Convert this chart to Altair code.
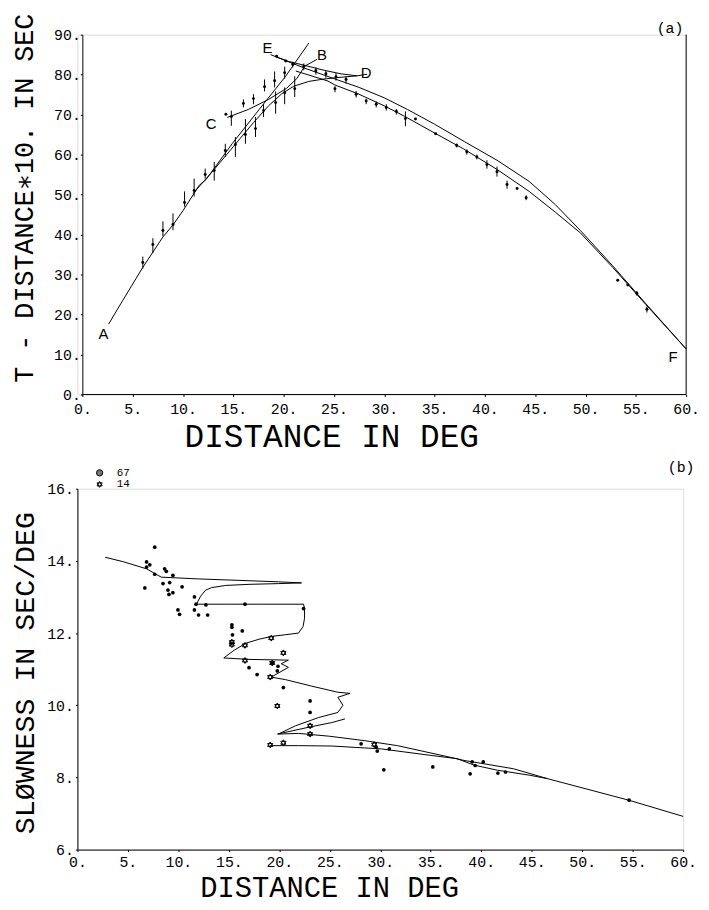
import altair as alt
import pandas as pd

# ---------------- Panel (a): reduced travel time branches ----------------
ab1_x = [2.6, 4.0, 6.0, 8.0, 9.0, 10.0, 11.6, 12.3, 14.9, 18.2, 20.2, 22.5]
ab1_y = [17.6, 23.5, 31.8, 39.4, 42.4, 46.0, 52.3, 53.8, 62.8, 73.3, 79.6, 87.9]

ab2_x = [11.0, 13.0, 15.0, 17.0, 18.5, 19.8, 21.0, 22.5, 24.0, 25.5, 27.3, 28.3]
ab2_y = [50.3, 56.0, 62.0, 68.0, 72.2, 75.2, 77.1, 78.3, 78.9, 79.3, 79.7, 80.1]

cb_x = [14.4, 16.5, 18.5, 20.3, 21.3, 22.1]
cb_y = [69.3, 71.3, 73.8, 76.6, 79.0, 82.1]

de_x = [19.3, 20.5, 22.1, 24.0, 25.7, 27.3]
de_y = [84.4, 83.3, 82.3, 81.1, 80.2, 79.7]

ef1_x = [18.7, 20.5, 22.1, 24.0, 25.0, 27.5, 30.0, 32.3, 35.0, 38.0, 41.2, 44.4, 47.0, 49.5, 52.7, 56.0, 60.0]
ef1_y = [85.0, 83.2, 81.6, 79.9, 79.0, 76.8, 74.2, 71.3, 67.6, 63.2, 58.6, 53.3, 47.5, 41.0, 32.2, 22.7, 11.4]

ef2_x = [21.2, 22.5, 24.4, 25.1, 27.4, 30.0, 32.0, 35.0, 37.9, 41.2, 44.4, 47.0, 49.5, 52.7, 56.0, 60.0]
ef2_y = [80.9, 79.9, 78.4, 77.4, 75.2, 72.2, 69.6, 65.4, 61.4, 56.3, 50.8, 45.6, 40.4, 31.8, 22.5, 11.4]

bptr_x = [22.15, 23.3]
bptr_y = [82.2, 83.8]

# observed arrivals (centre, lower, upper)
pa_x = [6.0, 7.0, 8.0, 9.0, 10.15, 11.1, 12.2, 13.1, 14.2, 15.2, 16.2, 17.2, 18.0, 19.2, 20.1, 21.1,
        14.26, 14.8, 16.0, 17.0, 18.1, 19.1, 20.1,
        19.3, 20.2, 20.9, 22.0, 23.2, 24.2, 25.2, 26.2,
        25.1, 27.2, 28.2, 29.2, 30.2, 31.2, 32.1, 33.1, 35.1, 37.2, 38.2, 39.2, 40.2, 41.2, 42.2, 43.2, 44.1,
        53.2, 54.2, 55.1, 56.1]
pa_y = [33.0, 37.5, 41.0, 42.5, 48.0, 51.0, 55.0, 56.0, 61.0, 62.5, 65.0, 66.5, 71.0, 73.0, 75.5, 76.5,
        70.1, 69.5, 72.8, 74.0, 77.0, 78.5, 80.5,
        84.6, 83.4, 82.6, 82.1, 81.0, 80.2, 79.5, 78.8,
        76.5, 75.1, 73.4, 72.6, 71.8, 70.8, 69.0, 68.9, 65.2, 62.3, 60.7, 59.4, 57.5, 55.7, 52.5, 51.5, 49.2,
        28.6, 27.4, 25.3, 21.3]
pa_lo = [31.5, 35.4, 39.6, 41.1, 47.0, 49.5, 54.0, 53.5, 59.4, 59.4, 62.7, 64.4, 69.4, 70.2, 72.6, 74.4,
         70.1, 67.2, 71.8, 72.6, 75.8, 76.8, 79.0,
         84.6, 83.4, 81.8, 81.1, 80.0, 79.2, 78.5, 77.8,
         75.6, 74.3, 72.6, 71.8, 71.0, 70.0, 67.1, 68.9, 65.2, 61.8, 60.0, 58.8, 56.5, 54.5, 51.5, 51.5, 48.6,
         28.6, 27.4, 24.7, 20.5]
pa_hi = [34.5, 39.1, 43.3, 45.3, 50.8, 54.0, 56.5, 58.2, 62.7, 64.4, 68.9, 69.4, 72.6, 75.8, 76.8, 79.6,
         70.1, 71.0, 73.8, 75.1, 78.8, 80.8, 82.0,
         84.6, 83.4, 83.2, 82.8, 81.8, 81.0, 80.4, 79.6,
         77.1, 75.9, 74.0, 73.3, 72.6, 71.4, 70.8, 68.9, 65.2, 62.8, 61.3, 60.0, 58.6, 57.0, 53.5, 51.5, 49.8,
         28.6, 27.4, 25.9, 22.0]

lab_a_text = ["A", "B", "C", "D", "E", "F"]
lab_a_x = [2.1, 23.8, 12.8, 28.2, 18.4, 58.7]
lab_a_y = [15.1, 85.0, 67.7, 80.5, 86.7, 9.35]

tag_a = ["(a)"]
tag_a_x = [58.4]
tag_a_y = [91.7]

# ---------------- Panel (b): slowness ----------------
s1_x = [2.75, 4.5, 6.85, 8.3, 12.0, 16.0, 19.9, 22.2,
        19.9, 17.0, 14.7, 13.3, 12.7, 12.2, 11.8,
        15.0, 18.0, 22.4, 22.5, 22.5, 22.35, 21.9, 20.5, 19.3, 18.0, 16.7, 15.5, 14.5,
        17.0, 20.9, 20.2, 20.9, 19.2,
        20.6, 23.2, 25.8, 27.0,
        25.8, 26.3, 25.8, 23.9, 21.6, 19.9,
        21.9, 25.0, 28.4, 31.7, 36.9, 38.3, 43.2, 46.5, 54.6, 60.0]
s1_y = [14.10, 13.98, 13.78, 13.55, 13.50, 13.46, 13.42, 13.39,
        13.37, 13.35, 13.32, 13.26, 13.19, 13.02, 12.80,
        12.80, 12.80, 12.80, 12.68, 12.41, 12.18, 12.00, 11.95, 11.91, 11.83, 11.72, 11.52, 11.31,
        11.27, 11.25, 11.15, 11.05, 10.78,
        10.71, 10.53, 10.36, 10.33,
        10.22, 10.00, 9.80, 9.66, 9.43, 9.20,
        9.22, 9.14, 9.02, 8.88, 8.56, 8.47, 8.24, 7.97, 7.37, 6.92]

s2_x = [19.8, 22.9, 25.2, 26.5]
s2_y = [9.20, 9.39, 9.52, 9.62]

s3_x = [19.1, 21.9, 25.2, 30.1, 35.0, 37.6, 39.3, 41.6, 44.8, 46.5]
s3_y = [8.88, 8.88, 8.87, 8.79, 8.61, 8.52, 8.34, 8.20, 8.06, 7.97]

dots_x = [7.66, 6.85, 7.17, 6.85, 8.64, 8.81, 7.66, 9.46, 6.68, 8.48, 9.14, 10.37, 8.97, 9.46, 9.07, 11.59,
          9.96, 10.12, 11.59, 11.75, 12.73, 12.0, 12.9, 16.6, 15.3, 15.3, 16.33, 15.36, 17.0, 17.8,
          19.3, 19.87, 19.8, 20.4, 23.05, 23.05, 28.1, 29.6, 29.7, 30.9, 30.35, 35.2, 38.9, 39.1,
          39.4, 40.2, 41.65, 42.4, 54.65, 22.4]
dots_y = [14.38, 13.97, 13.89, 13.83, 13.78, 13.71, 13.63, 13.60, 13.25, 13.37, 13.40, 13.28, 13.19, 13.12, 13.07, 13.00,
          12.64, 12.52, 12.64, 12.80, 12.78, 12.50, 12.50, 12.80, 12.23, 12.16, 12.06, 11.95, 11.04, 10.85,
          11.18, 11.08, 10.95, 10.49, 10.12, 9.80, 8.93, 8.84, 8.73, 8.79, 8.21, 8.29, 8.10, 8.43,
          8.33, 8.43, 8.12, 8.15, 7.37, 12.68]

stars_x = [15.3, 15.3, 16.6, 19.2, 20.4, 16.6, 19.3, 19.1, 19.8, 23.05, 23.05, 19.1, 20.4, 29.4]
stars_y = [11.75, 11.68, 11.66, 11.86, 11.45, 11.24, 11.17, 10.78, 9.98, 9.43, 9.20, 8.90, 8.96, 8.91]

leg_text = ["67", "14"]
leg_kind = ["dot", "star"]
leg_x = [2.2, 2.2]
leg_tx = [3.9, 3.9]
leg_y = [16.44, 16.12]

tag_b = ["(b)"]
tag_b_x = [59.8]
tag_b_y = [16.59]

# ---------------- helpers ----------------
MONO = "Liberation Mono, DejaVu Sans Mono, monospace"
SANS = "Liberation Sans, DejaVu Sans, sans-serif"
HEX = "M0,-1L0.866,0.5L-0.866,0.5Z M0,1L0.866,-0.5L-0.866,-0.5Z"
TICK_LABEL = "datum.value + '.'"


def seg_df(segs):
    rows = []
    for sid, (xs, ys) in enumerate(segs):
        for i, (x, y) in enumerate(zip(xs, ys)):
            rows.append({"seg": sid, "i": i, "x": x, "y": y})
    return pd.DataFrame(rows)


def xaxis(title_x, title_y, tsize, lpad, show_domain):
    return alt.Axis(values=list(range(0, 61, 5)), labelExpr=TICK_LABEL,
                    title="DISTANCE IN DEG", titleFont=MONO, titleFontSize=tsize,
                    titleFontWeight="normal", titleColor="black", titleX=title_x, titleY=title_y,
                    titleAlign="center", titleBaseline="alphabetic",
                    labelFont=MONO, labelFontSize=15, labelColor="black", labelPadding=lpad,
                    labelFlush=False, labelOverlap=False, domain=show_domain,
                    tickSize=2, tickColor="black", domainColor="black", grid=False)


def yaxis(title, values, fsize, tx, ty, pad, off):
    return alt.Axis(values=values, labelExpr=TICK_LABEL,
                    title=title, titleFont=MONO, titleFontSize=fsize,
                    titleFontWeight="normal", titleColor="black", titleX=tx, titleY=ty,
                    titleAlign="center", titleBaseline="alphabetic", titleAngle=270,
                    labelFont=MONO, labelFontSize=15, labelColor="black", labelPadding=pad,
                    labelFlush=False, labelOverlap=False, offset=off,
                    tickSize=2, tickColor="black", domainColor="black", grid=False)


# ---------------- chart (a) ----------------
xs_a = alt.Scale(domain=[-0.5, 60], nice=False, zero=False)
ys_a = alt.Scale(domain=[0, 90], nice=False, zero=False)

lines_a = seg_df([(ab1_x, ab1_y), (ab2_x, ab2_y), (cb_x, cb_y), (de_x, de_y),
                  (ef1_x, ef1_y), (ef2_x, ef2_y), (bptr_x, bptr_y)])
pts_a = pd.DataFrame({"x": pa_x, "y": pa_y, "lo": pa_lo, "hi": pa_hi})
labs_a = pd.DataFrame({"t": lab_a_text, "x": lab_a_x, "y": lab_a_y})
tag_a_df = pd.DataFrame({"t": tag_a, "x": tag_a_x, "y": tag_a_y})
border_a = pd.DataFrame({"x": [60], "y": [0], "y2": [90]})
base_a = pd.DataFrame({"x": [0], "x2": [60], "y": [0]})

a_lines = alt.Chart(lines_a).mark_line(color="black", strokeWidth=1).encode(
    x=alt.X("x:Q", scale=xs_a, axis=xaxis(256, 52, 33, 5, False)),
    y=alt.Y("y:Q", scale=ys_a, axis=yaxis("T - DISTANCE∗10. IN SEC", list(range(0, 91, 10)),
                                          27, -50, 164.5, 0, -5)),
    detail="seg:N", order="i:Q")
a_bars = alt.Chart(pts_a).mark_rule(color="black", strokeWidth=1).encode(
    x=alt.X("x:Q", scale=xs_a), y=alt.Y("lo:Q", scale=ys_a), y2="hi:Q")
a_dots = alt.Chart(pts_a).mark_circle(color="black", size=9, opacity=1).encode(
    x=alt.X("x:Q", scale=xs_a), y=alt.Y("y:Q", scale=ys_a))
a_border = alt.Chart(border_a).mark_rule(color="black", strokeWidth=1).encode(
    x=alt.X("x:Q", scale=xs_a), y=alt.Y("y:Q", scale=ys_a), y2="y2:Q")
a_base = alt.Chart(base_a).mark_rule(color="black", strokeWidth=1).encode(
    x=alt.X("x:Q", scale=xs_a), x2="x2:Q", y=alt.Y("y:Q", scale=ys_a))
a_labs = alt.Chart(labs_a).mark_text(font=SANS, fontSize=15, color="black").encode(
    x=alt.X("x:Q", scale=xs_a), y=alt.Y("y:Q", scale=ys_a), text="t:N")
a_tag = alt.Chart(tag_a_df).mark_text(font=MONO, fontSize=15, color="black").encode(
    x=alt.X("x:Q", scale=xs_a), y=alt.Y("y:Q", scale=ys_a), text="t:N")

chart_a = alt.layer(a_lines, a_bars, a_dots, a_border, a_base, a_labs, a_tag).properties(
    width=614, height=363)

# ---------------- chart (b) ----------------
xs_b = alt.Scale(domain=[0, 60], nice=False, zero=False)
ys_b = alt.Scale(domain=[6, 16], nice=False, zero=False)

lines_b = seg_df([(s1_x, s1_y), (s2_x, s2_y), (s3_x, s3_y)])
dots_b = pd.DataFrame({"x": dots_x, "y": dots_y})
stars_b = pd.DataFrame({"x": stars_x, "y": stars_y})
leg_df = pd.DataFrame({"t": leg_text, "k": leg_kind, "x": leg_x, "tx": leg_tx, "y": leg_y})
tag_b_df = pd.DataFrame({"t": tag_b, "x": tag_b_x, "y": tag_b_y})

b_lines = alt.Chart(lines_b).mark_line(color="black", strokeWidth=1).encode(
    x=alt.X("x:Q", scale=xs_b, axis=xaxis(254, 47, 29, 3, True)),
    y=alt.Y("y:Q", scale=ys_b, axis=yaxis("SLØWNESS IN SEC/DEG", list(range(6, 17, 2)),
                                          28.5, -44, 185.5, 2, 0)),
    detail="seg:N", order="i:Q")
b_dots = alt.Chart(dots_b).mark_circle(color="black", size=14, opacity=1).encode(
    x=alt.X("x:Q", scale=xs_b), y=alt.Y("y:Q", scale=ys_b))
b_stars = alt.Chart(stars_b).mark_point(shape=HEX, filled=False, color="black", strokeWidth=1,
                                        size=36, opacity=1).encode(
    x=alt.X("x:Q", scale=xs_b), y=alt.Y("y:Q", scale=ys_b))
b_leg_dot = alt.Chart(leg_df).transform_filter("datum.k == 'dot'").mark_point(
    shape="circle", filled=True, fill="#777777", stroke="black", strokeWidth=1, size=40, opacity=1).encode(
    x=alt.X("x:Q", scale=xs_b), y=alt.Y("y:Q", scale=ys_b))
b_leg_star = alt.Chart(leg_df).transform_filter("datum.k == 'star'").mark_point(
    shape=HEX, filled=False, color="black", strokeWidth=1, size=36, opacity=1).encode(
    x=alt.X("x:Q", scale=xs_b), y=alt.Y("y:Q", scale=ys_b))
b_leg_txt = alt.Chart(leg_df).mark_text(font=MONO, fontSize=11, color="black", align="left").encode(
    x=alt.X("tx:Q", scale=xs_b), y=alt.Y("y:Q", scale=ys_b), text="t:N")
b_tag = alt.Chart(tag_b_df).mark_text(font=MONO, fontSize=15, color="black").encode(
    x=alt.X("x:Q", scale=xs_b), y=alt.Y("y:Q", scale=ys_b), text="t:N")

chart_b = alt.layer(b_lines, b_dots, b_stars, b_leg_dot, b_leg_star, b_leg_txt, b_tag).properties(
    width=611, height=364)

chart = alt.vconcat(chart_a, chart_b, spacing=6).properties(
    padding={"left": 2, "top": 0, "right": 0, "bottom": -4}
).configure_view(strokeWidth=0).configure(background="white")

chart.save("out.html", embed_options={"renderer": "svg", "actions": False})
